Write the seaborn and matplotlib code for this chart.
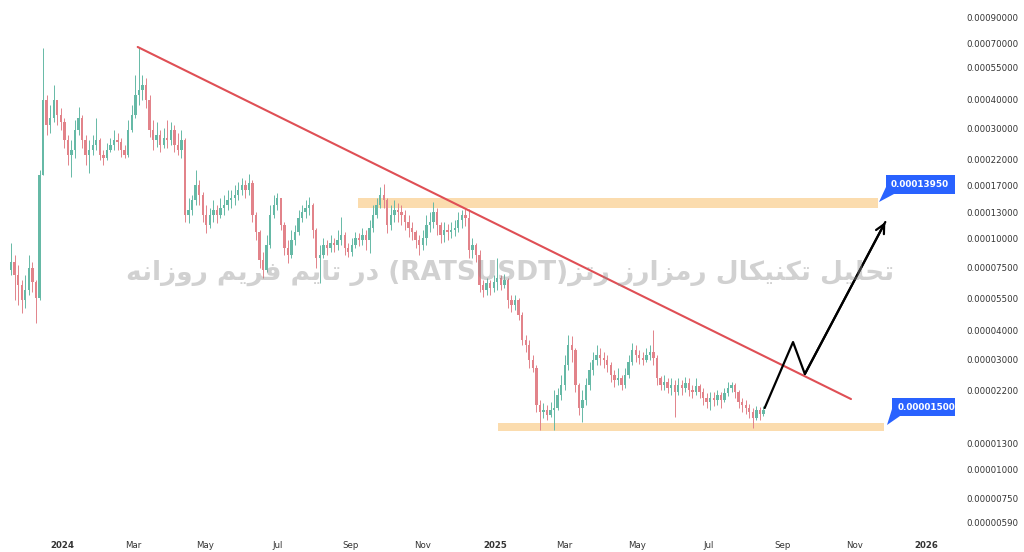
import numpy as np
import pandas as pd
import matplotlib
matplotlib.use("Agg")
import matplotlib.pyplot as plt
import matplotlib.dates as mdates
from matplotlib.patches import Rectangle, Polygon
import seaborn as sns

# ---------------- data (prices in units of 1e-8 USDT) ----------------
UNIT = 1e-8
candle_start = "2023-11-18"
candle_days = 3
first_open = 7295

closes = [
    7900, 6940, 6280, 5410, 5980, 7440, 6470, 5520, 18800, 39720,
    30950, 33180, 39720, 34200, 31890, 26660, 22960, 24130, 29450, 33180,
    26660, 22960, 24130, 25350, 26660, 22960, 22280, 24130, 25350, 26660,
    26130, 24130, 22960, 29450, 34200, 41740, 43890, 46130, 39720, 29450,
    26660, 28020, 25350, 27180, 26660, 29450, 25350, 24130, 26660, 12620,
    13270, 14660, 17010, 15410, 12620, 11430, 12620, 13270, 12620, 13530,
    13950, 14660, 14950, 15410, 16200, 17010, 16200, 17370, 12620, 10650,
    8062, 7295, 9360, 12620, 13950, 14950, 11430, 9080, 8470, 9840,
    10650, 12250, 13010, 13530, 13950, 10870, 8220, 8470, 9360, 9080,
    9550, 9360, 9840, 10340, 9080, 8730, 9360, 10030, 9840, 10340,
    9840, 11090, 12620, 13950, 15410, 14660, 11430, 12620, 13270, 13010,
    12620, 11770, 11090, 10650, 9840, 9360, 10030, 11430, 11770, 13010,
    11430, 10340, 10870, 10650, 10870, 11090, 12010, 12620, 12250, 8906,
    9360, 8470, 6280, 5976, 6410, 6090, 6470, 6730, 6280, 6602,
    5409, 5150, 5409, 4660, 3630, 3450, 2974, 2745, 1899, 1771,
    1807, 1719, 1807, 1842, 2099, 2317, 2829, 3450, 3286, 2317,
    1842, 1996, 2317, 2692, 2974, 3126, 3033, 2974, 2829, 2561,
    2436, 2485, 2317, 2561, 2915, 3286, 3126, 3033, 2974, 3126,
    3220, 3033, 2485, 2317, 2387, 2249, 2317, 2162, 2317, 2249,
    2365, 2206, 2162, 2295, 2162, 2036, 1956, 2036, 1996, 2099,
    1996, 2142, 2249, 2317, 2162, 1956, 1899, 1842, 1771, 1668,
    1807, 1736, 1807,
]
highs = [
    9550, 8470, 7670, 6600, 6940, 8470, 7900, 6600, 19770, 66700,
    41740, 37790, 46130, 39720, 36660, 33180, 28020, 26660, 32540, 37060,
    34200, 28020, 26660, 28020, 33180, 27180, 24130, 25880, 27180, 29450,
    28590, 27180, 25350, 32540, 37790, 50960, 67370, 50960, 49480, 41740,
    32540, 31890, 29450, 30030, 32540, 31890, 30950, 28590, 29450, 27180,
    14950, 15410, 19770, 17890, 15880, 13950, 13530, 14660, 13950, 14950,
    15410, 16200, 16200, 17010, 17540, 18250, 17890, 19000, 17890, 13010,
    10870, 8730, 10340, 13950, 15410, 15730, 14950, 11770, 9840, 10870,
    11430, 13270, 13950, 14660, 15110, 14230, 11090, 9360, 10030, 9840,
    10340, 10030, 10870, 12380, 10650, 9550, 10030, 10650, 10550, 11090,
    10870, 12010, 13950, 14950, 16690, 17190, 14950, 13950, 14660, 14230,
    13950, 13270, 12620, 11770, 10870, 10340, 10870, 12620, 13010, 14370,
    13530, 11770, 11770, 11540, 11770, 12010, 13010, 13270, 13400, 13400,
    10030, 9550, 8906, 6602, 6730, 6602, 6940, 8220, 6940, 7010,
    6730, 5680, 5680, 5520, 4800, 3815, 3630, 3126, 2829, 1996,
    1938, 1899, 1956, 2206, 2249, 2561, 3126, 3815, 3778, 3352,
    2365, 2206, 2485, 2915, 3220, 3450, 3352, 3220, 3126, 2915,
    2692, 2745, 2561, 2745, 3126, 3525, 3450, 3286, 3220, 3352,
    3450, 4011, 3126, 2536, 2561, 2485, 2485, 2436, 2485, 2436,
    2512, 2485, 2317, 2485, 2341, 2249, 2142, 2162, 2162, 2206,
    2162, 2249, 2387, 2387, 2365, 2206, 2036, 1996, 1918, 1842,
    1880, 1862, 1880,
]
lows = [
    6940, 5409, 5150, 4750, 4990, 5680, 5860, 4300, 5410, 18800,
    28020, 28590, 31890, 30950, 29450, 24610, 20780, 18440, 22280, 28020,
    24610, 20780, 19200, 22960, 24130, 21840, 20780, 21840, 23650, 24130,
    24130, 22510, 22280, 22510, 28860, 33180, 37790, 39720, 36660, 27480,
    24130, 24870, 23650, 24610, 24610, 25350, 23650, 22960, 22280, 11770,
    11660, 12620, 13950, 13950, 11770, 10550, 11090, 11770, 11660, 12250,
    12620, 13270, 13530, 13950, 14660, 15410, 14950, 15410, 11770, 9840,
    7440, 6730, 7150, 9080, 12250, 13270, 10870, 8470, 7830, 8220,
    9360, 10340, 11770, 12250, 12620, 10030, 7440, 6410, 8220, 8470,
    8730, 8730, 8906, 9360, 8470, 8310, 8390, 9080, 9270, 9360,
    8906, 8650, 10650, 12250, 13530, 13530, 10550, 10870, 11770, 11770,
    11430, 10870, 10140, 9840, 9080, 8470, 8906, 9360, 10650, 11090,
    10340, 9550, 9640, 9840, 10030, 10240, 10650, 11090, 11310, 8220,
    8220, 7900, 5860, 5575, 5680, 5680, 5860, 5976, 5976, 6090,
    4990, 4800, 4896, 4431, 3450, 3220, 2745, 2639, 1771, 1480,
    1668, 1635, 1686, 1480, 1807, 1996, 2206, 2692, 2915, 2162,
    1719, 1603, 1899, 2206, 2561, 2829, 2829, 2745, 2639, 2387,
    2272, 2317, 2206, 2249, 2485, 2829, 2915, 2858, 2829, 2915,
    2974, 2829, 2317, 2206, 2206, 2142, 2099, 1686, 2099, 2099,
    2162, 2078, 2036, 2099, 2036, 1899, 1842, 1807, 1880, 1899,
    1842, 1956, 2078, 2162, 2036, 1842, 1771, 1736, 1668, 1509,
    1635, 1635, 1702,
]

# trend line (resistance) and projected path
trend_dates = ["2024-03-05", "2025-10-29"]
trend_prices = [67370, 2016]
path_dates = ["2025-08-17", "2025-09-10", "2025-09-20", "2025-11-27"]
path_prices = [1843, 3558, 2587, 11770]

# support / resistance zones
upper_zone_dates = ["2024-09-07", "2025-11-21"]
upper_zone = [13530, 14950]
lower_zone_dates = ["2025-01-04", "2025-11-26"]
lower_zone = [1465, 1588]
upper_label = "0.00013950"
lower_label = "0.00001500"

ytick_values = [90000, 70000, 55000, 40000, 30000, 22000, 17000, 13000, 10000,
                7500, 5500, 4000, 3000, 2200, 1300, 1000, 750, 590]
xtick_dates = ["2024-01-01", "2024-03-01", "2024-05-01", "2024-07-01", "2024-09-01",
               "2024-11-01", "2025-01-01", "2025-03-01", "2025-05-01", "2025-07-01",
               "2025-09-01", "2025-11-01", "2026-01-01"]
xtick_labels = ["2024", "Mar", "May", "Jul", "Sep", "Nov", "2025", "Mar", "May",
                "Jul", "Sep", "Nov", "2026"]

title = "تحلیل تکنیکال رمزارز رتز(RATSUSDT) در تایم فریم روزانه"

# ---------------- Persian shaping helpers ----------------
FORMS = {
    "\u0627": ("\uFE8D", "\uFE8E", None, None),
    "\u062A": ("\uFE95", "\uFE96", "\uFE97", "\uFE98"),
    "\u062D": ("\uFEA1", "\uFEA2", "\uFEA3", "\uFEA4"),
    "\u062F": ("\uFEA9", "\uFEAA", None, None),
    "\u0631": ("\uFEAD", "\uFEAE", None, None),
    "\u0632": ("\uFEAF", "\uFEB0", None, None),
    "\u0641": ("\uFED1", "\uFED2", "\uFED3", "\uFED4"),
    "\u0644": ("\uFEDD", "\uFEDE", "\uFEDF", "\uFEE0"),
    "\u0645": ("\uFEE1", "\uFEE2", "\uFEE3", "\uFEE4"),
    "\u0646": ("\uFEE5", "\uFEE6", "\uFEE7", "\uFEE8"),
    "\u0647": ("\uFEE9", "\uFEEA", "\uFEEB", "\uFEEC"),
    "\u0648": ("\uFEED", "\uFEEE", None, None),
    "\u06CC": ("\uFBFC", "\uFBFD", "\uFBFE", "\uFBFF"),
    "\u06A9": ("\uFB8E", "\uFB8F", "\uFB90", "\uFB91"),
}


def shape_word(word):
    word = word.replace("\u064A", "\u06CC").replace("\u0643", "\u06A9")
    out = []
    for k, ch in enumerate(word):
        if ch not in FORMS:
            out.append(ch)
            continue
        prev = word[k - 1] if k > 0 else None
        nxt = word[k + 1] if k + 1 < len(word) else None
        jp = prev in FORMS and FORMS[prev][2] is not None
        jn = nxt in FORMS and FORMS[ch][2] is not None
        iso, fin, ini, med = FORMS[ch]
        out.append(med if (jp and jn) else fin if jp else ini if jn else iso)
    return "".join(out)[::-1]


def visual(text):
    tokens = text.split(" ")
    vis = []
    for tok in tokens:
        if "(" in tok:
            fa, latin = tok.split("(", 1)
            vis.append("(" + latin + shape_word(fa))
        else:
            vis.append(shape_word(tok))
    return " ".join(vis[::-1])


# ---------------- figure ----------------
sns.set_theme(style="white")
plt.rcParams["font.family"] = ["DejaVu Sans"]

W, H = 1024, 552
fig = plt.figure(figsize=(W / 100, H / 100), dpi=100)
fig.patch.set_facecolor("white")
ax = fig.add_axes([0, (H - 535) / H, 948 / W, 535 / H])
ax.set_facecolor("white")


def px(x, y):
    return (x / W, 1 - y / H)


UP = "#66b9a6"
DOWN = "#e2838a"

dates = pd.date_range(candle_start, periods=len(closes), freq=f"{candle_days}D") + pd.Timedelta(days=1)
xd = mdates.date2num(dates.to_pydatetime())
c = np.array(closes, float) * UNIT
o = np.array([first_open] + closes[:-1], float) * UNIT
h = np.array(highs, float) * UNIT
l = np.array(lows, float) * UNIT
colors = np.where(c >= o, UP, DOWN)

ax.set_yscale("log")
ax.vlines(xd, l, h, colors=colors, linewidth=0.7, zorder=2)
body_lo = np.minimum(o, c)
body_h = np.maximum(np.abs(c - o), body_lo * 0.01)
ax.bar(xd, body_h, bottom=body_lo, width=2.0, color=colors, linewidth=0, zorder=3)

# zones
uz = mdates.date2num(pd.to_datetime(upper_zone_dates).to_pydatetime())
lz = mdates.date2num(pd.to_datetime(lower_zone_dates).to_pydatetime())
ax.fill_between(uz, upper_zone[0] * UNIT, upper_zone[1] * UNIT, color="#fbdcae", lw=0, zorder=1)
ax.fill_between(lz, lower_zone[0] * UNIT, lower_zone[1] * UNIT, color="#fbdcae", lw=0, zorder=1)

# trend line & projection (seaborn)
td = mdates.date2num(pd.to_datetime(trend_dates).to_pydatetime())
sns.lineplot(x=td, y=np.array(trend_prices) * UNIT, ax=ax, color="#df4f55", linewidth=1.5, zorder=4)
pdx = mdates.date2num(pd.to_datetime(path_dates).to_pydatetime())
pdy = np.array(path_prices) * UNIT
sns.lineplot(x=pdx, y=pdy, ax=ax, color="black", linewidth=1.6, sort=False, zorder=5)
ax.annotate("", xy=(pdx[-1], pdy[-1]), xytext=(pdx[-2], pdy[-2]),
            arrowprops=dict(arrowstyle="->", lw=1.6, color="black", mutation_scale=16,
                            shrinkA=0, shrinkB=0), zorder=5)

# axes limits and ticks
jan24 = pd.Timestamp("2024-01-01")
ax.set_xlim(mdates.date2num(jan24 - pd.Timedelta(days=52.4)),
            mdates.date2num(jan24 + pd.Timedelta(days=749)))
ax.set_ylim(520 * UNIT, 107600 * UNIT)

ax.yaxis.tick_right()
ax.set_yticks([v * UNIT for v in ytick_values])
ax.set_yticklabels([f"{v * UNIT:.8f}" for v in ytick_values])
ax.yaxis.set_minor_locator(matplotlib.ticker.NullLocator())
ax.tick_params(axis="y", length=0, pad=13.5, labelsize=6.2, labelcolor="#333333")

xt = mdates.date2num(pd.to_datetime(xtick_dates).to_pydatetime())
ax.set_xticks(xt)
ax.set_xticklabels(xtick_labels)
ax.tick_params(axis="x", length=0, pad=4.5, labelsize=6.2, labelcolor="#333333")
for lab in ax.get_xticklabels():
    if lab.get_text().isdigit():
        lab.set_fontweight("bold")
for s in ax.spines.values():
    s.set_visible(False)
ax.grid(False)
ax.set_xlabel("")
ax.set_ylabel("")

# watermark title
fig.text(*px(510, 273), visual(title), ha="center", va="center", fontsize=19,
         fontweight="bold", color=(0.55, 0.55, 0.55, 0.40), zorder=10)

# price labels
BLUE = "#2962ff"
clip = Rectangle((0, 0), 955 / W, 1, transform=fig.transFigure, visible=False)
fig.add_artist(clip)


def price_box(x0, y0, x1, y1, tri, text, tx):
    r = Rectangle(px(x0, y1), (x1 - x0) / W, (y1 - y0) / H, transform=fig.transFigure,
                  facecolor=BLUE, edgecolor="none", zorder=11)
    r.set_clip_path(clip)
    fig.add_artist(r)
    p = Polygon([px(*pt) for pt in tri], closed=True, transform=fig.transFigure,
                facecolor=BLUE, edgecolor="none", zorder=11)
    fig.add_artist(p)
    t = fig.text(*px(tx, (y0 + y1) / 2), text, ha="left", va="center", fontsize=6.4,
                 fontweight="bold", color="white", zorder=12)
    t.set_clip_path(clip)


price_box(886, 175, 955, 194, [(886, 187), (894, 194), (879, 202)], upper_label, 891)
price_box(892, 398, 958, 416, [(892, 409), (900, 416), (887, 425)], lower_label, 898)

fig.savefig("out.png", dpi=100)
